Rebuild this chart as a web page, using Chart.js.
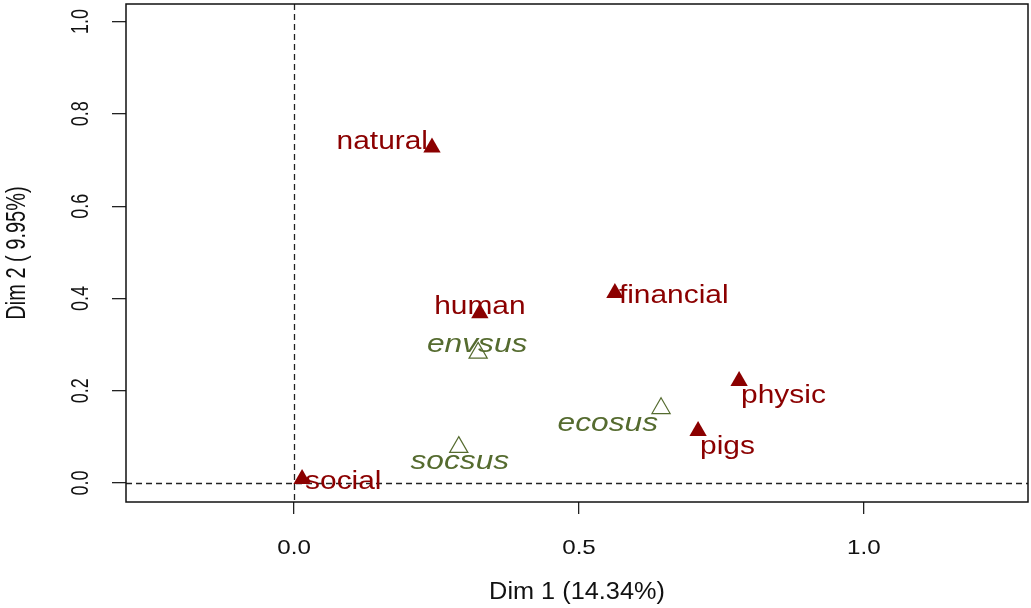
<!DOCTYPE html>
<html>
<head>
<meta charset="utf-8">
<script src="https://cdn.jsdelivr.net/npm/chart.js@4"></script>
<style>
  html, body { margin: 0; padding: 0; background: #fff; }
  #wrap { width: 1031px; height: 608px; }
</style>
</head>
<body>
<div id="wrap"><canvas id="chart"></canvas></div>
<script>
// Active variables (filled triangles) and supplementary ones (open triangles)
const activeNames = ['natural', 'human', 'financial', 'physic', 'pigs', 'social'];
const activeDim1 = [0.242, 0.326, 0.563, 0.781, 0.709, 0.014];
const activeDim2 = [0.727, 0.368, 0.412, 0.221, 0.113, 0.009];

const suppNames = ['envsus', 'ecosus', 'socsus'];
const suppDim1 = [0.323, 0.644, 0.289];
const suppDim2 = [0.282, 0.162, 0.078];

const dim1Ticks = [0, 0.5, 1.0];
const dim2Ticks = [0, 0.2, 0.4, 0.6, 0.8, 1.0];
const dim1Title = 'Dim 1 (14.34%)';
const dim2Title = 'Dim 2 ( 9.95%)';

// where each label sits relative to its point
const labelPlace = {
    natural:   { align: 'right',  dx: -4, dy: -6 },
    human:     { align: 'center', dx: 0,  dy: -6 },
    financial: { align: 'left',   dx: 4,  dy: 3 },
    physic:    { align: 'left',   dx: 2,  dy: 15 },
    pigs:      { align: 'left',   dx: 2,  dy: 16 },
    social:    { align: 'left',   dx: 3,  dy: 3 },
    envsus:    { align: 'center', dx: -1, dy: -8 },
    ecosus:    { align: 'right',  dx: -3, dy: 15 },
    socsus:    { align: 'center', dx: 1,  dy: 15 }
};

const RED = '#8b0000';
const GREEN = '#556b2f';
const FONT = "'Liberation Sans', Arial, sans-serif";

function stretchedText(ctx, text, x, y, opts) {
    ctx.save();
    ctx.translate(x, y);
    if (opts.rotate) ctx.rotate(opts.rotate);
    ctx.scale(opts.sx || 1, opts.sy || 1);
    ctx.font = opts.font;
    ctx.fillStyle = opts.color || '#000';
    ctx.textAlign = opts.align || 'center';
    ctx.textBaseline = 'middle';
    ctx.fillText(text, 0, 0);
    ctx.restore();
}

const factoPlugin = {
    id: 'facto',
    beforeDatasetsDraw(chart) {
        const ctx = chart.ctx;
        const a = chart.chartArea;
        const xs = chart.scales.x, ys = chart.scales.y;

        // dashed reference lines through the origin
        ctx.save();
        ctx.strokeStyle = '#222';
        ctx.lineWidth = 1.3;
        ctx.setLineDash([6, 4]);
        const x0 = Math.round(xs.getPixelForValue(0)) + 0.5;
        const y0 = Math.round(ys.getPixelForValue(0)) + 0.5;
        ctx.beginPath();
        ctx.moveTo(x0, a.top);
        ctx.lineTo(x0, a.bottom);
        ctx.moveTo(a.left, y0);
        ctx.lineTo(a.right, y0);
        ctx.stroke();
        ctx.restore();

        // point labels
        chart.data.datasets.forEach(ds => {
            const italic = ds.label === 'supplementary';
            ds.data.forEach(p => {
                const pl = labelPlace[p.name];
                stretchedText(ctx, p.name,
                    xs.getPixelForValue(p.x) + pl.dx,
                    ys.getPixelForValue(p.y) + pl.dy,
                    { font: (italic ? 'italic ' : '') + '26px ' + FONT, sx: italic ? 1.22 : 1.15,
                      align: pl.align, color: ds.borderColor });
            });
        });
    },
    afterDraw(chart) {
        const ctx = chart.ctx;
        const a = chart.chartArea;
        const xs = chart.scales.x, ys = chart.scales.y;

        // frame
        ctx.save();
        ctx.strokeStyle = '#111';
        ctx.lineWidth = 1.5;
        ctx.strokeRect(a.left, a.top, a.right - a.left, a.bottom - a.top);
        ctx.restore();

        dim1Ticks.forEach(v => {
            stretchedText(ctx, v.toFixed(1), xs.getPixelForValue(v), 548,
                { font: '21px ' + FONT, sx: 1.15, color: '#111' });
        });
        dim2Ticks.forEach(v => {
            stretchedText(ctx, v.toFixed(1), 81, ys.getPixelForValue(v),
                { font: '18px ' + FONT, rotate: -Math.PI / 2, sy: 1.35, color: '#111' });
        });
        stretchedText(ctx, dim1Title, (a.left + a.right) / 2, 593,
            { font: '23px ' + FONT, sx: 1.1, color: '#111' });
        stretchedText(ctx, dim2Title, 18, (a.top + a.bottom) / 2,
            { font: '20px ' + FONT, rotate: -Math.PI / 2, sy: 1.35, color: '#111' });
    }
};

const toPoints = (names, xs, ys) => names.map((n, i) => ({ x: xs[i], y: ys[i], name: n }));

new Chart(document.getElementById('chart'), {
    type: 'scatter',
    data: {
        datasets: [{
            label: 'active',
            data: toPoints(activeNames, activeDim1, activeDim2),
            pointStyle: 'triangle',
            pointRadius: 10,
            backgroundColor: RED,
            borderColor: RED,
            borderWidth: 0
        }, {
            label: 'supplementary',
            data: toPoints(suppNames, suppDim1, suppDim2),
            pointStyle: 'triangle',
            pointRadius: 10.5,
            backgroundColor: 'rgba(255,255,255,0)',
            borderColor: GREEN,
            borderWidth: 1.2
        }]
    },
    options: {
        responsive: true,
        maintainAspectRatio: false,
        animation: false,
        layout: { autoPadding: false, padding: { top: 4, right: 3, left: 0, bottom: 0 } },
        plugins: { legend: { display: false }, tooltip: { enabled: false } },
        scales: {
            x: {
                type: 'linear',
                min: -0.295,
                max: 1.288,
                afterBuildTicks: s => { s.ticks = dim1Ticks.map(v => ({ value: v })); },
                afterFit: s => { s.height = 106; },
                ticks: { display: false },
                border: { display: false },
                grid: { drawOnChartArea: false, drawTicks: true, tickLength: 12, color: '#222', lineWidth: 1.3 }
            },
            y: {
                type: 'linear',
                min: -0.041,
                max: 1.038,
                afterBuildTicks: s => { s.ticks = dim2Ticks.map(v => ({ value: v })); },
                afterFit: s => { s.width = 126; },
                ticks: { display: false },
                border: { display: false },
                grid: { drawOnChartArea: false, drawTicks: true, tickLength: 14, color: '#222', lineWidth: 1.3 }
            }
        }
    },
    plugins: [factoPlugin]
});
</script>
</body>
</html>
